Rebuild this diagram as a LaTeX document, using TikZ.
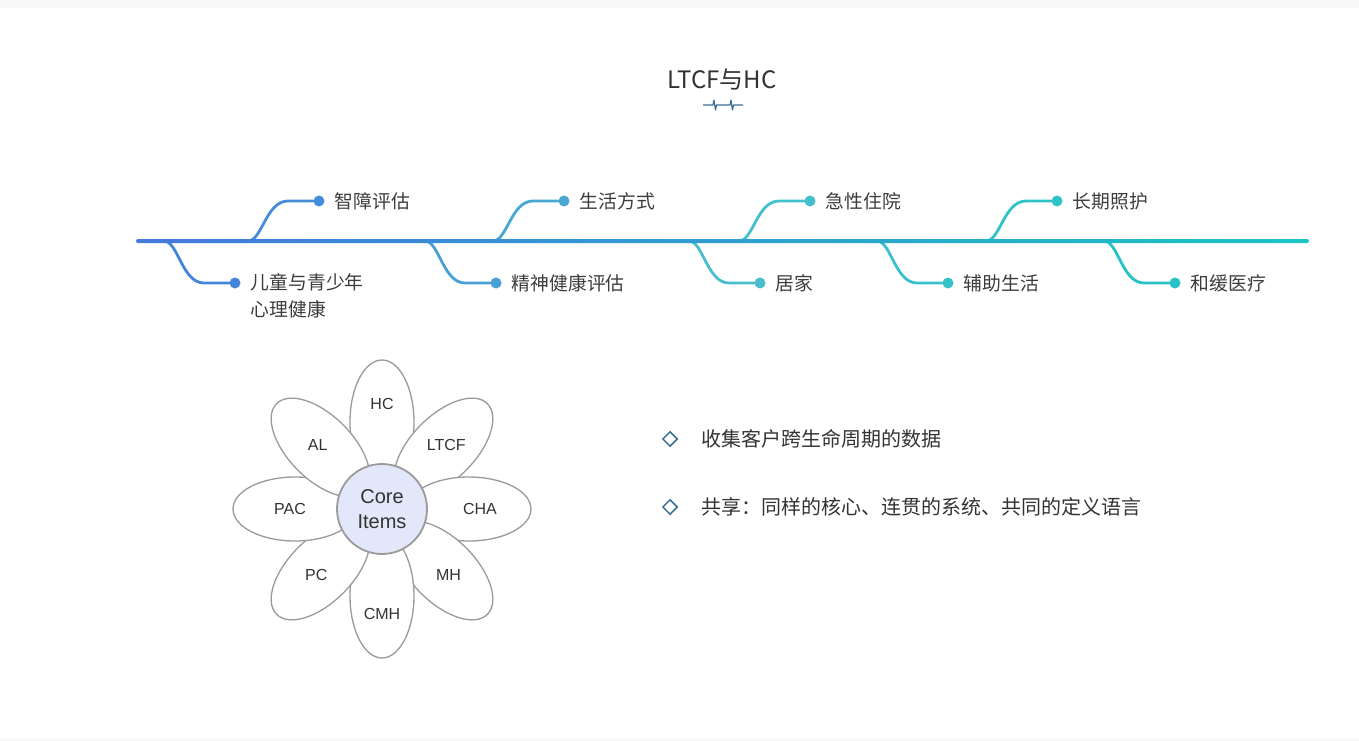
\documentclass[tikz,border=0pt]{standalone}
\usepackage{fontspec}
\setmainfont{Noto Sans CJK SC}
\newfontfamily\petalfont{Liberation Sans}
\usetikzlibrary{positioning,shapes.geometric}
\definecolor{bandgray}{HTML}{F8F8F8}
\definecolor{linestart}{HTML}{4479DD}
\definecolor{linemid}{HTML}{4AB8D0}
\definecolor{lineend}{HTML}{1BC4C4}
\definecolor{textgray}{HTML}{333333}
\definecolor{leafgray}{HTML}{3C3C3C}
\definecolor{petalgray}{HTML}{9A9A9A}
\definecolor{corefill}{HTML}{E2E8FA}
\definecolor{pulseblue}{HTML}{3A6F94}
\definecolor{cA}{HTML}{4584DB}
\definecolor{cB}{HTML}{468DD9}
\definecolor{cC}{HTML}{489FD5}
\definecolor{cD}{HTML}{48A7D3}
\definecolor{cE}{HTML}{47BDCD}
\definecolor{cF}{HTML}{43C0CC}
\definecolor{cG}{HTML}{38C1CA}
\definecolor{cH}{HTML}{2FC2C8}
\definecolor{cI}{HTML}{26C3C6}
\tikzset{
  branch/.style={line width=2.8pt,line cap=round},
  dotnode/.style={circle,inner sep=0pt,minimum size=11pt},
  leaf/.style={inner sep=0pt,anchor=west,text=leafgray,align=left,
    font=\fontsize{18.8}{27}\selectfont},
  petal/.style={ellipse,draw=petalgray,fill=white,line width=1.3pt,
    inner sep=0pt,minimum width=124pt,minimum height=64pt},
  petaltext/.style={text=textgray,font=\petalfont\fontsize{16}{18}\selectfont},
  core/.style={circle,draw=petalgray,fill=corefill,line width=1.8pt,
    minimum size=90pt,inner sep=0pt,align=center,text=textgray,
    font=\petalfont\fontsize{20}{25}\selectfont},
  bullet/.style={diamond,aspect=1,draw=pulseblue,line width=1.5pt,
    minimum size=15pt,inner sep=0pt},
  point/.style={inner sep=0pt,anchor=west,text=textgray,
    font=\fontsize{20}{24}\selectfont},
}
\begin{document}
\begin{tikzpicture}[x=1pt,y=-1pt]
\useasboundingbox (0,0) rectangle (1359,741);
\fill[bandgray] (0,0) rectangle (1359,8);
\fill[bandgray] (0,739) rectangle (1359,741);
% title
\node[text=textgray,font=\fontsize{24}{28}\selectfont] (title) at (722,80) {LTCF与HC};
\coordinate (pulseL) at (703,105);
\coordinate (pulseR) at (743,105);
\draw[pulseblue,line width=1.2pt,line join=round] (pulseL) -- ++(10,0)
 -- ++(1,-5) -- ++(1.5,10) -- ++(1,-5) -- ++(13.5,0)
 -- ++(1,-5) -- ++(1.5,10) -- ++(1,-5) -- (pulseR);
% time line
\coordinate (lineL) at (136,241);
\coordinate (lineR) at (1309,241);
% upper branches
\coordinate (u1) at (248,241);
\node[dotnode,fill=cB] (d1) at (319,201) {};
\node[leaf,right=10pt of d1] (t1) {智障评估};
\draw[branch,cB] (u1) .. controls +(14,0) and +(-22,0) .. ++(40,-40) -- (d1);
\coordinate (u2) at (493,241);
\node[dotnode,fill=cD] (d2) at (564,201) {};
\node[leaf,right=10pt of d2] (t2) {生活方式};
\draw[branch,cD] (u2) .. controls +(14,0) and +(-22,0) .. ++(40,-40) -- (d2);
\coordinate (u3) at (739,241);
\node[dotnode,fill=cF] (d3) at (810,201) {};
\node[leaf,right=10pt of d3] (t3) {急性住院};
\draw[branch,cF] (u3) .. controls +(14,0) and +(-22,0) .. ++(40,-40) -- (d3);
\coordinate (u4) at (986,241);
\node[dotnode,fill=cH] (d4) at (1057,201) {};
\node[leaf,right=10pt of d4] (t4) {长期照护};
\draw[branch,cH] (u4) .. controls +(14,0) and +(-22,0) .. ++(40,-40) -- (d4);
% lower branches
\coordinate (l1) at (164,241);
\node[dotnode,fill=cA] (e1) at (235,283) {};
\node[leaf,anchor=north west] (s1) at ([xshift=10pt,yshift=9.5pt]e1.east) {儿童与青少年\\心理健康};
\draw[branch,cA] (l1) .. controls +(14,0) and +(-22,0) .. ++(40,42) -- (e1);
\coordinate (l2) at (425,241);
\node[dotnode,fill=cC] (e2) at (496,283) {};
\node[leaf,right=10pt of e2] (s2) {精神健康评估};
\draw[branch,cC] (l2) .. controls +(14,0) and +(-22,0) .. ++(40,42) -- (e2);
\coordinate (l3) at (689,241);
\node[dotnode,fill=cE] (e3) at (760,283) {};
\node[leaf,right=10pt of e3] (s3) {居家};
\draw[branch,cE] (l3) .. controls +(14,0) and +(-22,0) .. ++(40,42) -- (e3);
\coordinate (l4) at (877,241);
\node[dotnode,fill=cG] (e4) at (948,283) {};
\node[leaf,right=10pt of e4] (s4) {辅助生活};
\draw[branch,cG] (l4) .. controls +(14,0) and +(-22,0) .. ++(40,42) -- (e4);
\coordinate (l5) at (1104,241);
\node[dotnode,fill=cI] (e5) at (1175,283) {};
\node[leaf,right=10pt of e5] (s5) {和缓医疗};
\draw[branch,cI] (l5) .. controls +(14,0) and +(-22,0) .. ++(40,42) -- (e5);
\shade[left color=linestart,middle color=linemid,right color=lineend,rounded corners=2pt]
 ([yshift=2pt]lineL) rectangle ([yshift=-2pt]lineR);
% flower
\coordinate (hub) at (382,509);
\node[petal,rotate=90] (pHC) at ([shift={(270:87)}]hub) {};
\node[petal,rotate=45] (pLTCF) at ([shift={(315:87)}]hub) {};
\node[petal,rotate=0] (pCHA) at ([shift={(0:87)}]hub) {};
\node[petal,rotate=-45] (pMH) at ([shift={(45:87)}]hub) {};
\node[petal,rotate=-90] (pCMH) at ([shift={(90:87)}]hub) {};
\node[petal,rotate=-135] (pPC) at ([shift={(135:87)}]hub) {};
\node[petal,rotate=180] (pPAC) at ([shift={(180:87)}]hub) {};
\node[petal,rotate=135] (pAL) at ([shift={(225:87)}]hub) {};
\node[petaltext] (tHC) at ([shift={(270:105)}]hub) {HC};
\node[petaltext] (tLTCF) at ([shift={(315:91)}]hub) {LTCF};
\node[petaltext] (tCHA) at ([shift={(0:98)}]hub) {CHA};
\node[petaltext] (tMH) at ([shift={(45:94)}]hub) {MH};
\node[petaltext] (tCMH) at ([shift={(90:105)}]hub) {CMH};
\node[petaltext] (tPC) at ([shift={(135:93)}]hub) {PC};
\node[petaltext] (tPAC) at ([shift={(180:92)}]hub) {PAC};
\node[petaltext] (tAL) at ([shift={(225:91)}]hub) {AL};
\node[core] (core) at (hub) {Core\\Items};
% key points
\node[bullet] (b1) at (670,439) {};
\node[point,right=23pt of b1] (k1) {收集客户跨生命周期的数据};
\node[bullet] (b2) at (670,507) {};
\node[point,right=23pt of b2] (k2) {共享：同样的核心、连贯的系统、共同的定义语言};
\end{tikzpicture}
\end{document}
